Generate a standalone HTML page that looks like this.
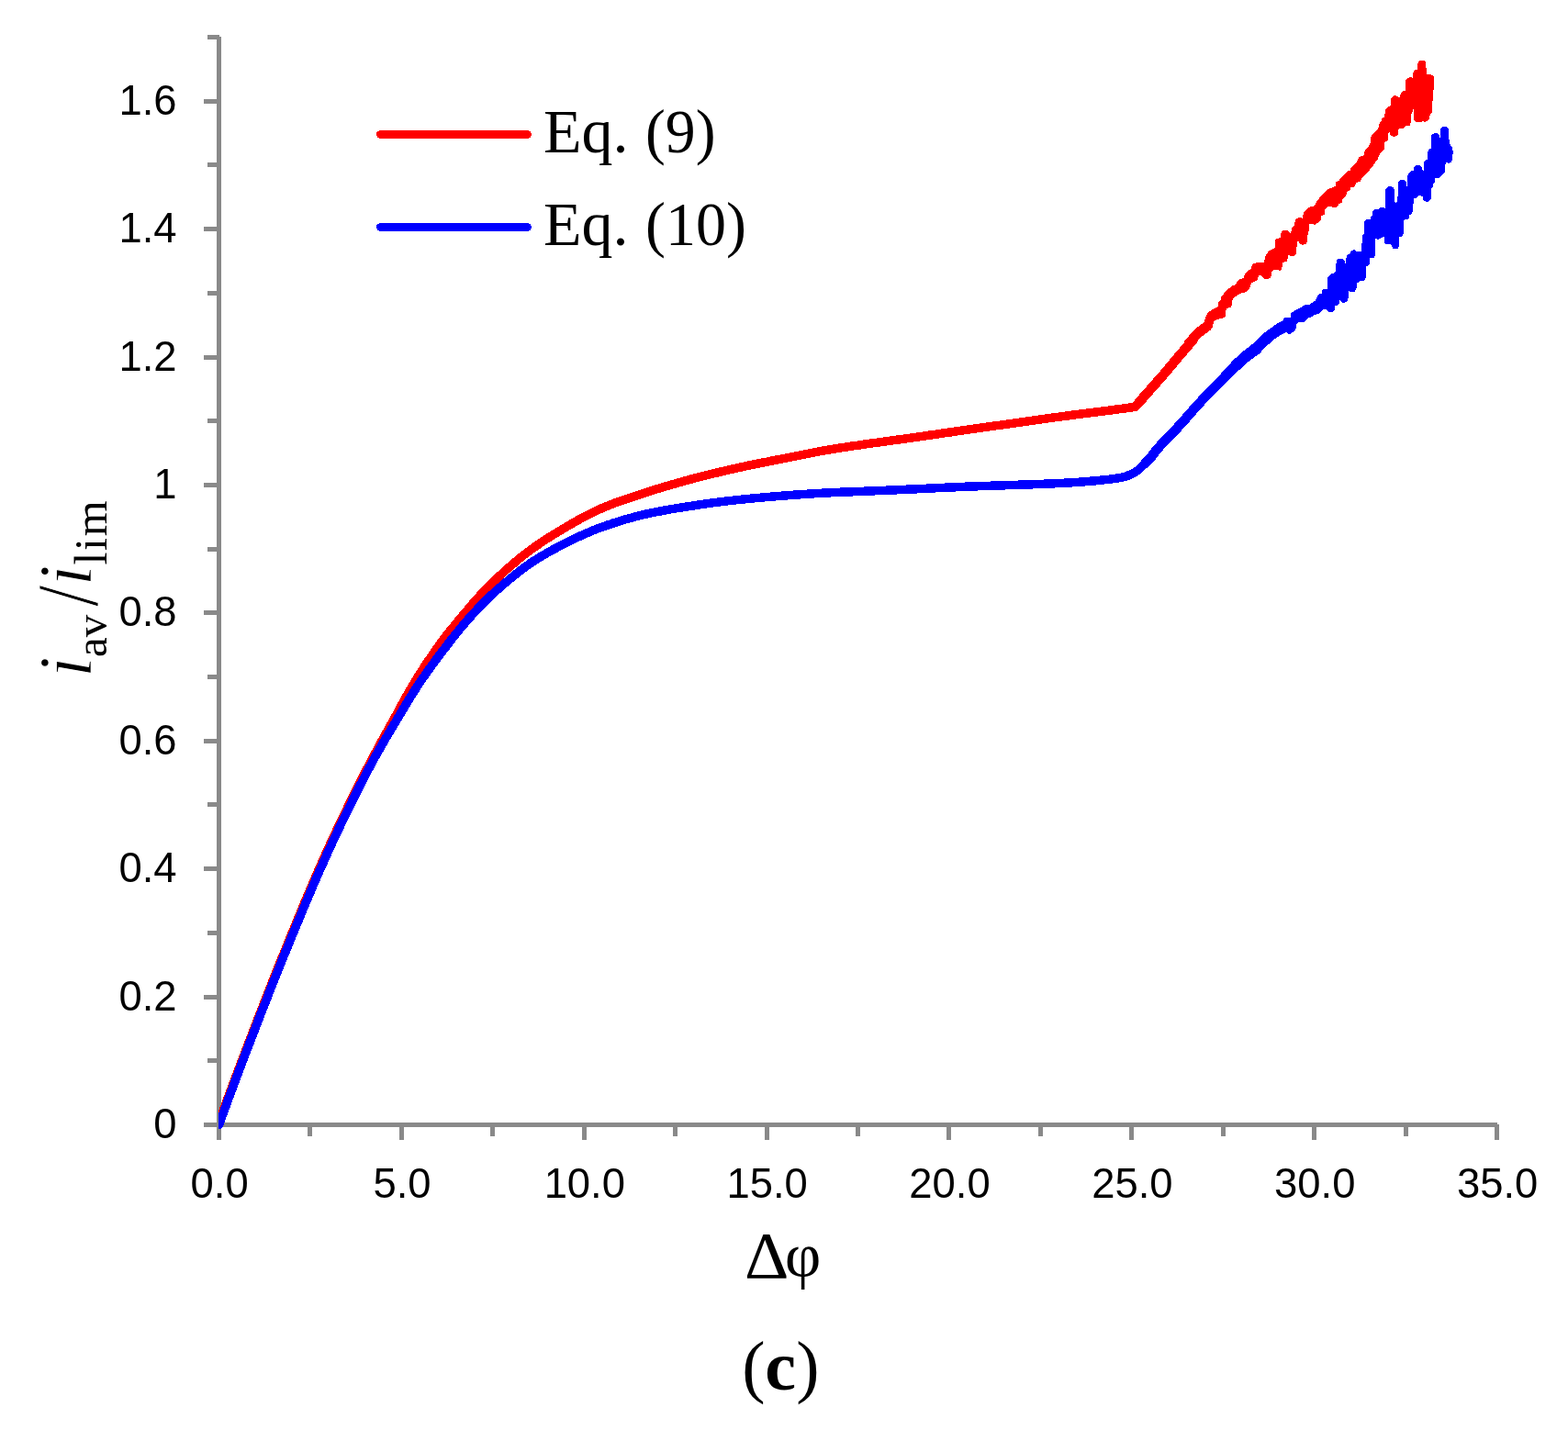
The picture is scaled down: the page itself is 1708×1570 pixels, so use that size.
<!DOCTYPE html>
<html lang="en"><head><meta charset="utf-8"><title>Figure (c)</title>
<style>html,body{margin:0;padding:0;background:#fff;}svg{display:block;}</style>
</head><body>
<svg width="1708" height="1570" viewBox="0 0 1708 1570">
<rect width="1708" height="1570" fill="#fff"/>
<g fill="#898989" shape-rendering="crispEdges">
<rect x="236" y="40" width="5" height="1202"/>
<rect x="222" y="1223" width="1409" height="5"/>
<rect x="226" y="1153.29" width="13" height="5"/>
<rect x="222" y="1083.59" width="17" height="5"/>
<rect x="226" y="1013.88" width="13" height="5"/>
<rect x="222" y="944.18" width="17" height="5"/>
<rect x="226" y="874.47" width="13" height="5"/>
<rect x="222" y="804.76" width="17" height="5"/>
<rect x="226" y="735.06" width="13" height="5"/>
<rect x="222" y="665.35" width="17" height="5"/>
<rect x="226" y="595.65" width="13" height="5"/>
<rect x="222" y="525.94" width="17" height="5"/>
<rect x="226" y="456.23" width="13" height="5"/>
<rect x="222" y="386.53" width="17" height="5"/>
<rect x="226" y="316.82" width="13" height="5"/>
<rect x="222" y="247.12" width="17" height="5"/>
<rect x="226" y="177.41" width="13" height="5"/>
<rect x="222" y="107.70" width="17" height="5"/>
<rect x="226" y="38.00" width="13" height="5"/>
<rect x="335.43" y="1225" width="5" height="13"/>
<rect x="434.86" y="1225" width="5" height="17"/>
<rect x="534.28" y="1225" width="5" height="13"/>
<rect x="633.71" y="1225" width="5" height="17"/>
<rect x="733.14" y="1225" width="5" height="13"/>
<rect x="832.57" y="1225" width="5" height="17"/>
<rect x="931.99" y="1225" width="5" height="13"/>
<rect x="1031.42" y="1225" width="5" height="17"/>
<rect x="1130.85" y="1225" width="5" height="13"/>
<rect x="1230.28" y="1225" width="5" height="17"/>
<rect x="1329.70" y="1225" width="5" height="13"/>
<rect x="1429.13" y="1225" width="5" height="17"/>
<rect x="1528.56" y="1225" width="5" height="13"/>
<rect x="1627.99" y="1225" width="5" height="17"/>
</g>
<g font-family="'Liberation Sans', sans-serif" font-size="45.4" fill="#000">
<text x="192.5" y="1240.10" text-anchor="end">0</text>
<text x="192.5" y="1100.69" text-anchor="end">0.2</text>
<text x="192.5" y="961.28" text-anchor="end">0.4</text>
<text x="192.5" y="821.86" text-anchor="end">0.6</text>
<text x="192.5" y="682.45" text-anchor="end">0.8</text>
<text x="192.5" y="543.04" text-anchor="end">1</text>
<text x="192.5" y="403.63" text-anchor="end">1.2</text>
<text x="192.5" y="264.22" text-anchor="end">1.4</text>
<text x="192.5" y="124.80" text-anchor="end">1.6</text>
<text x="239.10" y="1304.6" text-anchor="middle">0.0</text>
<text x="437.96" y="1304.6" text-anchor="middle">5.0</text>
<text x="636.81" y="1304.6" text-anchor="middle">10.0</text>
<text x="835.67" y="1304.6" text-anchor="middle">15.0</text>
<text x="1034.52" y="1304.6" text-anchor="middle">20.0</text>
<text x="1233.38" y="1304.6" text-anchor="middle">25.0</text>
<text x="1432.23" y="1304.6" text-anchor="middle">30.0</text>
<text x="1631.09" y="1304.6" text-anchor="middle">35.0</text>
</g>
<g fill="none" stroke-width="9" stroke-linecap="round" shape-rendering="crispEdges">
<line x1="414.5" y1="146.5" x2="574.5" y2="146.5" stroke="#ff0000"/>
<line x1="414.5" y1="247.5" x2="574.5" y2="247.5" stroke="#0000ff"/>
</g>
<g font-family="'Liberation Serif', serif" font-size="68" fill="#000">
<text x="592" y="166.2">Eq. <tspan x="703" textLength="76.5" lengthAdjust="spacingAndGlyphs">(9)</tspan></text>
<text x="592" y="266.6">Eq. <tspan x="703" textLength="110" lengthAdjust="spacingAndGlyphs">(10)</tspan></text>
</g>
<g font-family="'Liberation Serif', serif" fill="#000">
<text transform="translate(811.1,1391.6) scale(1.045,1)" font-size="72">Δ</text><text x="855" y="1391.3" font-size="68">φ</text>
<text x="808.2" y="1514" font-size="76">(<tspan x="833.2" y="1514.3" font-weight="bold">c</tspan><tspan x="867.3" y="1514">)</tspan></text>
<text transform="translate(98.5,738.2) rotate(-90)" font-size="83.5" font-style="italic" stroke="#fff" stroke-width="1.1">i</text>
<text transform="translate(116.4,716) rotate(-90)" font-size="49">av</text>
<text transform="translate(106,660.8) rotate(-90) scale(1.04,1.2)" font-size="80" stroke="#fff" stroke-width="0.7">/</text>
<text transform="translate(98.5,638.5) rotate(-90)" font-size="83.5" font-style="italic" stroke="#fff" stroke-width="1.1">i</text>
<text transform="translate(116.2,615.6) rotate(-90)" font-size="50" letter-spacing="1.8">lim</text>
</g>
<defs><clipPath id="plot"><rect x="238" y="30" width="1400" height="1200"/></clipPath></defs>
<g clip-path="url(#plot)" shape-rendering="crispEdges" stroke-linejoin="round" stroke-linecap="round">
<path d="M237.5,1225.5 L238.2,1223.6 L238.9,1221.7 L239.6,1219.9 L240.3,1218.0 L240.9,1216.1 L241.6,1214.2 L242.3,1212.4 L243.0,1210.5 L243.7,1208.6 L244.4,1206.7 L245.1,1204.8 L245.8,1203.0 L246.5,1201.1 L247.2,1199.2 L247.9,1197.3 L248.6,1195.5 L249.3,1193.6 L250.0,1191.7 L250.7,1189.8 L251.4,1188.0 L252.1,1186.1 L252.8,1184.2 L253.5,1182.4 L254.2,1180.5 L254.9,1178.6 L255.6,1176.7 L256.3,1174.9 L257.0,1173.0 L257.7,1171.1 L258.4,1169.2 L259.1,1167.4 L259.8,1165.5 L260.5,1163.6 L261.2,1161.8 L261.9,1159.9 L262.6,1158.0 L263.3,1156.1 L264.0,1154.3 L264.7,1152.4 L265.5,1150.5 L266.2,1148.7 L266.9,1146.8 L267.6,1144.9 L268.3,1143.1 L269.0,1141.2 L269.7,1139.3 L270.4,1137.5 L271.2,1135.6 L271.9,1133.7 L272.6,1131.9 L273.3,1130.0 L274.0,1128.1 L274.7,1126.3 L275.5,1124.4 L276.2,1122.5 L276.9,1120.7 L277.6,1118.8 L278.3,1116.9 L279.1,1115.1 L279.8,1113.2 L280.5,1111.3 L281.2,1109.5 L281.9,1107.6 L282.7,1105.7 L283.4,1103.9 L284.1,1102.0 L284.8,1100.1 L285.6,1098.3 L286.3,1096.4 L287.0,1094.5 L287.7,1092.7 L288.5,1090.8 L289.2,1089.0 L289.9,1087.1 L290.6,1085.2 L291.4,1083.4 L292.1,1081.5 L292.8,1079.6 L293.6,1077.8 L294.3,1075.9 L295.0,1074.1 L295.8,1072.2 L296.5,1070.3 L297.2,1068.5 L298.0,1066.6 L298.7,1064.8 L299.5,1062.9 L300.2,1061.0 L300.9,1059.2 L301.7,1057.3 L302.4,1055.5 L303.2,1053.6 L303.9,1051.8 L304.6,1049.9 L305.4,1048.0 L306.1,1046.2 L306.9,1044.3 L307.6,1042.5 L308.4,1040.6 L309.1,1038.8 L309.9,1036.9 L310.6,1035.1 L311.4,1033.2 L312.1,1031.4 L312.9,1029.5 L313.7,1027.7 L314.4,1025.8 L315.2,1024.0 L315.9,1022.1 L316.7,1020.3 L317.4,1018.4 L318.2,1016.5 L318.9,1014.7 L319.7,1012.8 L320.5,1011.0 L321.2,1009.1 L322.0,1007.3 L322.7,1005.4 L323.5,1003.6 L324.3,1001.7 L325.0,999.9 L325.8,998.0 L326.6,996.2 L327.3,994.3 L328.1,992.5 L328.9,990.6 L329.6,988.8 L330.4,987.0 L331.2,985.1 L331.9,983.3 L332.7,981.4 L333.5,979.6 L334.2,977.7 L335.0,975.9 L335.8,974.0 L336.6,972.2 L337.4,970.3 L338.1,968.5 L338.9,966.7 L339.7,964.8 L340.5,963.0 L341.3,961.1 L342.1,959.3 L342.9,957.5 L343.7,955.6 L344.5,953.8 L345.3,952.0 L346.1,950.1 L346.9,948.3 L347.7,946.5 L348.5,944.6 L349.3,942.8 L350.1,941.0 L350.9,939.2 L351.7,937.3 L352.5,935.5 L353.3,933.7 L354.2,931.9 L355.0,930.0 L355.8,928.2 L356.6,926.4 L357.5,924.6 L358.3,922.8 L359.1,921.0 L360.0,919.1 L360.8,917.3 L361.6,915.5 L362.5,913.7 L363.3,911.9 L364.2,910.1 L365.0,908.3 L365.9,906.4 L366.7,904.6 L367.6,902.8 L368.4,901.0 L369.3,899.2 L370.1,897.4 L371.0,895.6 L371.9,893.8 L372.7,892.0 L373.6,890.2 L374.5,888.4 L375.3,886.6 L376.2,884.8 L377.1,883.0 L378.0,881.2 L378.8,879.4 L379.7,877.6 L380.6,875.8 L381.5,874.0 L382.4,872.2 L383.2,870.4 L384.1,868.6 L385.0,866.8 L385.9,865.0 L386.8,863.2 L387.7,861.4 L388.6,859.6 L389.5,857.9 L390.4,856.1 L391.3,854.3 L392.2,852.5 L393.1,850.7 L394.0,848.9 L394.9,847.1 L395.8,845.4 L396.7,843.6 L397.6,841.8 L398.5,840.0 L399.4,838.2 L400.4,836.5 L401.3,834.7 L402.2,832.9 L403.1,831.1 L404.0,829.4 L405.0,827.6 L405.9,825.8 L406.8,824.1 L407.8,822.3 L408.7,820.5 L409.7,818.8 L410.6,817.0 L411.6,815.2 L412.5,813.5 L413.5,811.7 L414.4,810.0 L415.4,808.2 L416.4,806.5 L417.3,804.7 L418.3,803.0 L419.3,801.2 L420.3,799.5 L421.2,797.7 L422.2,796.0 L423.2,794.2 L424.1,792.5 L425.1,790.7 L426.1,789.0 L427.1,787.2 L428.0,785.5 L429.0,783.7 L430.0,782.0 L430.9,780.2 L431.9,778.5 L432.8,776.7 L433.8,775.0 L434.8,773.2 L435.7,771.4 L436.7,769.7 L437.6,767.9 L438.6,766.2 L439.5,764.4 L440.5,762.7 L441.5,760.9 L442.4,759.2 L443.4,757.4 L444.4,755.7 L445.4,753.9 L446.4,752.2 L447.4,750.5 L448.4,748.7 L449.4,747.0 L450.4,745.3 L451.4,743.6 L452.5,741.9 L453.5,740.2 L454.6,738.5 L455.6,736.8 L456.7,735.1 L457.8,733.4 L458.9,731.7 L459.9,730.0 L461.0,728.4 L462.1,726.7 L463.2,725.0 L464.3,723.3 L465.4,721.7 L466.5,720.0 L467.7,718.3 L468.8,716.7 L469.9,715.0 L471.1,713.4 L472.2,711.7 L473.4,710.1 L474.5,708.5 L475.7,706.8 L476.8,705.2 L478.0,703.6 L479.2,702.0 L480.3,700.3 L481.5,698.7 L482.7,697.1 L483.9,695.5 L485.1,693.9 L486.3,692.3 L487.5,690.8 L488.8,689.2 L490.0,687.6 L491.3,686.1 L492.5,684.5 L493.8,683.0 L495.1,681.4 L496.3,679.9 L497.6,678.3 L498.9,676.8 L500.2,675.3 L501.5,673.7 L502.8,672.2 L504.0,670.7 L505.3,669.1 L506.6,667.6 L507.9,666.0 L509.2,664.5 L510.5,663.0 L511.7,661.4 L513.0,659.9 L514.3,658.4 L515.6,656.9 L517.0,655.4 L518.3,653.9 L519.6,652.4 L521.0,650.9 L522.3,649.4 L523.7,648.0 L525.0,646.5 L526.4,645.1 L527.8,643.6 L529.2,642.2 L530.6,640.8 L532.0,639.3 L533.4,637.9 L534.8,636.5 L536.3,635.1 L537.7,633.7 L539.1,632.3 L540.6,630.9 L542.0,629.5 L543.5,628.2 L544.9,626.8 L546.4,625.5 L547.9,624.1 L549.4,622.8 L550.8,621.4 L552.3,620.1 L553.8,618.8 L555.3,617.4 L556.8,616.1 L558.4,614.8 L559.9,613.5 L561.4,612.2 L563.0,610.9 L564.5,609.6 L566.0,608.4 L567.6,607.1 L569.2,605.9 L570.7,604.6 L572.3,603.4 L573.9,602.2 L575.5,601.0 L577.1,599.8 L578.7,598.6 L580.3,597.5 L582.0,596.3 L583.6,595.1 L585.2,594.0 L586.9,592.9 L588.5,591.7 L590.2,590.6 L591.9,589.5 L593.6,588.4 L595.2,587.3 L596.9,586.2 L598.6,585.2 L600.3,584.1 L602.0,583.1 L603.7,582.0 L605.4,581.0 L607.1,579.9 L608.8,578.9 L610.5,577.9 L612.2,576.8 L614.0,575.8 L615.7,574.8 L617.4,573.7 L619.1,572.7 L620.9,571.7 L622.6,570.7 L624.4,569.7 L626.1,568.7 L627.8,567.7 L629.6,566.7 L631.4,565.7 L633.1,564.8 L634.9,563.8 L636.7,562.9 L638.4,561.9 L640.2,561.0 L642.0,560.1 L643.8,559.2 L645.6,558.3 L647.4,557.5 L649.2,556.6 L651.0,555.8 L652.8,555.0 L654.6,554.2 L656.4,553.4 L658.2,552.6 L660.1,551.9 L661.9,551.1 L663.8,550.4 L665.6,549.7 L667.5,548.9 L669.4,548.2 L671.2,547.5 L673.1,546.9 L675.0,546.2 L676.9,545.5 L678.8,544.8 L680.7,544.2 L682.6,543.5 L684.5,542.9 L686.4,542.3 L688.3,541.6 L690.2,541.0 L692.1,540.4 L694.0,539.7 L695.9,539.1 L697.8,538.5 L699.7,537.9 L701.6,537.3 L703.6,536.7 L705.5,536.1 L707.4,535.4 L709.3,534.8 L711.2,534.2 L713.1,533.6 L715.0,533.0 L716.9,532.4 L718.8,531.9 L720.7,531.3 L722.6,530.7 L724.5,530.1 L726.5,529.5 L728.4,529.0 L730.3,528.4 L732.2,527.8 L734.1,527.3 L736.1,526.7 L738.0,526.2 L739.9,525.6 L741.8,525.1 L743.8,524.5 L745.7,524.0 L747.6,523.5 L749.6,523.0 L751.5,522.4 L753.4,521.9 L755.3,521.4 L757.3,520.9 L759.2,520.4 L761.1,519.9 L763.1,519.4 L765.0,518.9 L767.0,518.4 L768.9,517.9 L770.8,517.4 L772.8,517.0 L774.7,516.5 L776.7,516.0 L778.6,515.5 L780.6,515.1 L782.5,514.6 L784.5,514.1 L786.4,513.7 L788.3,513.2 L790.3,512.8 L792.2,512.3 L794.2,511.9 L796.1,511.4 L798.1,511.0 L800.0,510.5 L802.0,510.1 L804.0,509.7 L805.9,509.2 L807.9,508.8 L809.8,508.4 L811.8,508.0 L813.7,507.5 L815.7,507.1 L817.6,506.7 L819.6,506.3 L821.6,505.9 L823.5,505.5 L825.5,505.1 L827.4,504.7 L829.4,504.3 L831.4,503.9 L833.3,503.5 L835.3,503.2 L837.2,502.8 L839.2,502.4 L841.2,502.0 L843.1,501.6 L845.1,501.2 L847.1,500.8 L849.0,500.5 L851.0,500.1 L852.9,499.7 L854.9,499.3 L856.9,498.9 L858.8,498.5 L860.8,498.1 L862.8,497.8 L864.7,497.4 L866.7,497.0 L868.6,496.6 L870.6,496.2 L872.6,495.8 L874.5,495.4 L876.5,495.0 L878.4,494.6 L880.4,494.2 L882.4,493.8 L884.3,493.4 L886.3,493.0 L888.3,492.6 L890.2,492.3 L892.2,491.9 L894.2,491.5 L896.1,491.2 L898.1,490.8 L900.1,490.5 L902.0,490.2 L904.0,489.8 L906.0,489.5 L907.9,489.2 L909.9,488.9 L911.9,488.5 L913.9,488.2 L915.8,487.9 L917.8,487.6 L919.8,487.3 L921.8,487.0 L923.7,486.7 L925.7,486.4 L927.7,486.1 L929.7,485.8 L931.7,485.5 L933.6,485.3 L935.6,485.0 L937.6,484.7 L939.6,484.4 L941.6,484.1 L943.5,483.8 L945.5,483.6 L947.5,483.3 L949.5,483.0 L951.5,482.7 L953.4,482.5 L955.4,482.2 L957.4,481.9 L959.4,481.6 L961.4,481.4 L963.4,481.1 L965.3,480.8 L967.3,480.6 L969.3,480.3 L971.3,480.0 L973.3,479.7 L975.2,479.5 L977.2,479.2 L979.2,478.9 L981.2,478.7 L983.2,478.4 L985.2,478.1 L987.1,477.8 L989.1,477.6 L991.1,477.3 L993.1,477.0 L995.1,476.7 L997.0,476.4 L999.0,476.1 L1001.0,475.9 L1003.0,475.6 L1005.0,475.3 L1006.9,475.0 L1008.9,474.7 L1010.9,474.4 L1012.9,474.1 L1014.9,473.8 L1016.8,473.6 L1018.8,473.3 L1020.8,473.0 L1022.8,472.7 L1024.7,472.4 L1026.7,472.1 L1028.7,471.8 L1030.7,471.5 L1032.7,471.2 L1034.6,471.0 L1036.6,470.7 L1038.6,470.4 L1040.6,470.1 L1042.6,469.8 L1044.5,469.5 L1046.5,469.2 L1048.5,468.9 L1050.5,468.7 L1052.5,468.4 L1054.4,468.1 L1056.4,467.8 L1058.4,467.5 L1060.4,467.2 L1062.4,467.0 L1064.3,466.7 L1066.3,466.4 L1068.3,466.1 L1070.3,465.8 L1072.3,465.6 L1074.2,465.3 L1076.2,465.0 L1078.2,464.7 L1080.2,464.5 L1082.2,464.2 L1084.1,463.9 L1086.1,463.6 L1088.1,463.4 L1090.1,463.1 L1092.1,462.8 L1094.1,462.5 L1096.0,462.3 L1098.0,462.0 L1100.0,461.7 L1102.0,461.4 L1104.0,461.1 L1105.9,460.9 L1107.9,460.6 L1109.9,460.3 L1111.9,460.0 L1113.9,459.7 L1115.8,459.5 L1117.8,459.2 L1119.8,458.9 L1121.8,458.6 L1123.8,458.3 L1125.7,458.1 L1127.7,457.8 L1129.7,457.5 L1131.7,457.2 L1133.7,456.9 L1135.6,456.7 L1137.6,456.4 L1139.6,456.1 L1141.6,455.8 L1143.6,455.5 L1145.5,455.3 L1147.5,455.0 L1149.5,454.7 L1151.5,454.4 L1153.5,454.2 L1155.4,453.9 L1157.4,453.6 L1159.4,453.4 L1161.4,453.1 L1163.4,452.9 L1165.4,452.6 L1167.3,452.3 L1169.3,452.1 L1171.3,451.8 L1173.3,451.6 L1175.3,451.3 L1177.3,451.1 L1179.2,450.8 L1181.2,450.6 L1183.2,450.3 L1185.2,450.1 L1187.2,449.8 L1189.2,449.6 L1191.2,449.3 L1193.1,449.1 L1195.1,448.8 L1197.1,448.6 L1199.1,448.3 L1201.1,448.1 L1203.1,447.8 L1205.0,447.5 L1207.0,447.3 L1209.0,447.0 L1211.0,446.8 L1213.0,446.5 L1215.0,446.2 L1216.9,446.0 L1218.9,445.7 L1220.9,445.5 L1222.9,445.2 L1224.9,444.9 L1226.9,444.7 L1228.8,444.4 L1230.8,444.1 L1232.8,443.9 L1234.8,443.6 L1236.4,443.4 L1267.0,408.6 L1294.6,375.8 L1299.5,370.3" fill="none" stroke="#ff0000" stroke-width="9.5"/>
<path d="M1240.0,439.2 L1267.0,408.6 L1294.6,375.8 L1299.5,370.3" fill="none" stroke="#ff0000" stroke-width="10.6"/>
<polygon points="1290.0,371.7 1293.7,367.6 1297.5,363.0 1303.2,357.2 1307.8,353.9 1311.9,351.0 1313.2,345.2 1315.7,340.3 1321.9,336.5 1326.4,334.5 1327.3,329.1 1330.2,327.0 1330.2,323.3 1336.4,316.2 1342.2,311.3 1345.1,310.9 1349.2,304.6 1355.0,303.0 1355.0,300.1 1360.4,294.3 1362.9,292.6 1364.1,287.7 1369.1,286.0 1376.9,286.0 1378.2,279.4 1381.9,273.6 1388.9,269.9 1388.9,262.0 1390.2,259.9 1395.2,259.1 1395.2,254.1 1397.6,250.8 1402.6,250.8 1405.9,254.6 1407.5,248.5 1409.9,245.2 1411.2,239.0 1414.5,236.9 1417.0,237.4 1419.0,237.8 1419.9,231.6 1424.8,226.2 1431.9,224.1 1435.2,218.3 1439.3,213.3 1446.4,206.3 1453.0,203.8 1455.1,202.2 1455.1,198.0 1458.8,197.2 1459.2,195.1 1467.9,186.4 1470.8,185.6 1471.2,183.1 1477.8,176.9 1480.3,171.5 1485.7,169.0 1486.9,163.7 1491.1,159.1 1492.8,155.6 1493.2,149.0 1496.6,144.8 1500.3,141.1 1501.9,138.6 1502.4,134.9 1504.8,131.6 1505.3,129.1 1508.2,127.5 1509.0,119.2 1511.9,116.3 1514.8,115.4 1515.2,108.0 1516.8,105.1 1519.7,104.0 1523.1,105.5 1525.1,105.5 1526.0,101.0 1528.4,98.9 1530.9,98.9 1531.3,86.9 1533.8,84.8 1536.3,84.0 1538.8,84.8 1539.2,79.0 1541.3,76.1 1544.2,75.7 1544.2,69.1 1546.2,66.2 1550.8,65.8 1552.9,67.4 1553.3,73.6 1554.1,74.5 1554.1,81.5 1557.0,81.1 1560.7,81.9 1562.0,84.0 1562.0,97.6 1561.1,98.1 1560.7,109.6 1559.9,110.1 1559.9,122.9 1557.0,126.2 1557.0,129.5 1554.9,131.6 1552.0,132.8 1550.4,132.0 1547.9,132.8 1542.1,132.8 1540.4,130.4 1540.0,119.2 1539.2,118.8 1538.8,122.1 1537.1,124.1 1537.1,133.2 1535.5,136.6 1530.9,137.4 1528.9,139.9 1525.1,139.9 1523.1,141.9 1523.1,145.7 1521.4,148.2 1518.5,149.0 1515.6,148.2 1513.9,146.1 1513.9,144.0 1511.9,145.3 1511.9,152.7 1510.2,153.9 1508.2,154.8 1507.7,162.6 1503.2,167.2 1500.3,174.2 1497.0,178.4 1492.4,185.0 1494.0,181.1 1491.9,185.6 1488.6,188.9 1482.8,194.7 1482.0,197.6 1477.8,198.9 1474.9,203.8 1471.2,203.8 1470.4,207.1 1467.1,208.8 1466.2,213.8 1462.1,217.1 1461.7,220.8 1458.8,222.0 1456.3,225.8 1453.8,226.6 1449.7,224.9 1446.4,224.9 1443.1,228.7 1443.1,233.6 1438.9,235.7 1438.9,239.4 1436.4,241.9 1432.3,244.8 1428.6,244.0 1426.5,244.4 1425.7,251.4 1424.4,256.8 1424.0,263.4 1422.4,265.9 1419.0,266.8 1415.3,265.1 1414.1,261.8 1412.8,265.1 1412.0,276.3 1409.2,279.0 1403.0,278.2 1402.2,284.4 1397.2,286.0 1396.8,290.6 1395.2,294.7 1387.7,293.9 1385.2,296.0 1384.8,300.5 1383.2,303.4 1377.8,303.8 1373.6,300.1 1371.1,300.1 1369.5,305.1 1362.9,308.8 1360.4,315.8 1356.2,318.7 1352.9,318.7 1345.1,323.7 1342.2,327.0 1342.2,332.0 1340.9,334.5 1336.0,336.1 1335.1,339.0 1335.1,344.4 1332.2,346.5 1324.8,348.5 1321.9,350.2 1321.1,356.0 1319.0,359.3 1311.5,364.7 1304.9,370.1 1298.3,380.0" fill="#ff0000"/>
<path d="M238.5,1225.5 L239.2,1223.6 L239.9,1221.7 L240.6,1219.9 L241.2,1218.0 L241.9,1216.1 L242.6,1214.2 L243.3,1212.4 L244.0,1210.5 L244.7,1208.6 L245.4,1206.7 L246.1,1204.8 L246.8,1203.0 L247.5,1201.1 L248.2,1199.2 L248.9,1197.3 L249.5,1195.5 L250.2,1193.6 L250.9,1191.7 L251.6,1189.8 L252.3,1188.0 L253.0,1186.1 L253.7,1184.2 L254.4,1182.3 L255.1,1180.5 L255.8,1178.6 L256.5,1176.7 L257.2,1174.9 L257.9,1173.0 L258.7,1171.1 L259.4,1169.2 L260.1,1167.4 L260.8,1165.5 L261.5,1163.6 L262.2,1161.8 L262.9,1159.9 L263.6,1158.0 L264.3,1156.1 L265.0,1154.3 L265.7,1152.4 L266.4,1150.5 L267.1,1148.7 L267.9,1146.8 L268.6,1144.9 L269.3,1143.1 L270.0,1141.2 L270.7,1139.3 L271.4,1137.5 L272.2,1135.6 L272.9,1133.7 L273.6,1131.9 L274.3,1130.0 L275.0,1128.1 L275.7,1126.3 L276.5,1124.4 L277.2,1122.5 L277.9,1120.7 L278.6,1118.8 L279.3,1116.9 L280.1,1115.1 L280.8,1113.2 L281.5,1111.3 L282.2,1109.5 L283.0,1107.6 L283.7,1105.7 L284.4,1103.9 L285.1,1102.0 L285.9,1100.2 L286.6,1098.3 L287.3,1096.4 L288.1,1094.6 L288.8,1092.7 L289.5,1090.8 L290.2,1089.0 L291.0,1087.1 L291.7,1085.3 L292.4,1083.4 L293.2,1081.5 L293.9,1079.7 L294.6,1077.8 L295.4,1076.0 L296.1,1074.1 L296.9,1072.2 L297.6,1070.4 L298.3,1068.5 L299.1,1066.7 L299.8,1064.8 L300.6,1062.9 L301.3,1061.1 L302.0,1059.2 L302.8,1057.4 L303.5,1055.5 L304.3,1053.7 L305.0,1051.8 L305.8,1050.0 L306.5,1048.1 L307.3,1046.2 L308.0,1044.4 L308.8,1042.5 L309.5,1040.7 L310.3,1038.8 L311.0,1037.0 L311.8,1035.1 L312.6,1033.3 L313.3,1031.4 L314.1,1029.6 L314.8,1027.7 L315.6,1025.9 L316.4,1024.0 L317.1,1022.2 L317.9,1020.3 L318.6,1018.5 L319.4,1016.6 L320.2,1014.8 L320.9,1012.9 L321.7,1011.1 L322.4,1009.2 L323.2,1007.4 L324.0,1005.5 L324.7,1003.7 L325.5,1001.8 L326.3,1000.0 L327.0,998.1 L327.8,996.3 L328.6,994.4 L329.3,992.6 L330.1,990.7 L330.9,988.9 L331.7,987.1 L332.4,985.2 L333.2,983.4 L334.0,981.5 L334.8,979.7 L335.5,977.8 L336.3,976.0 L337.1,974.2 L337.9,972.3 L338.7,970.5 L339.5,968.6 L340.2,966.8 L341.0,965.0 L341.8,963.1 L342.6,961.3 L343.4,959.4 L344.2,957.6 L345.0,955.8 L345.8,953.9 L346.6,952.1 L347.4,950.3 L348.2,948.5 L349.0,946.6 L349.8,944.8 L350.6,943.0 L351.5,941.1 L352.3,939.3 L353.1,937.5 L353.9,935.7 L354.7,933.9 L355.6,932.0 L356.4,930.2 L357.2,928.4 L358.1,926.6 L358.9,924.8 L359.7,923.0 L360.6,921.1 L361.4,919.3 L362.2,917.5 L363.1,915.7 L363.9,913.9 L364.8,912.1 L365.6,910.3 L366.5,908.4 L367.3,906.6 L368.2,904.8 L369.0,903.0 L369.9,901.2 L370.7,899.4 L371.6,897.6 L372.5,895.8 L373.3,894.0 L374.2,892.2 L375.1,890.4 L375.9,888.6 L376.8,886.8 L377.7,885.0 L378.6,883.2 L379.4,881.4 L380.3,879.6 L381.2,877.8 L382.1,876.0 L383.0,874.2 L383.8,872.4 L384.7,870.6 L385.6,868.8 L386.5,867.0 L387.4,865.2 L388.3,863.4 L389.2,861.6 L390.1,859.8 L391.0,858.1 L391.9,856.3 L392.8,854.5 L393.8,852.7 L394.7,850.9 L395.6,849.2 L396.5,847.4 L397.4,845.6 L398.4,843.8 L399.3,842.1 L400.2,840.3 L401.1,838.5 L402.1,836.8 L403.0,835.0 L404.0,833.2 L404.9,831.5 L405.8,829.7 L406.8,828.0 L407.8,826.2 L408.7,824.5 L409.7,822.7 L410.7,821.0 L411.6,819.2 L412.6,817.5 L413.6,815.8 L414.6,814.0 L415.6,812.3 L416.6,810.6 L417.6,808.8 L418.6,807.1 L419.6,805.4 L420.6,803.6 L421.7,801.9 L422.7,800.2 L423.7,798.5 L424.7,796.8 L425.8,795.0 L426.8,793.3 L427.8,791.6 L428.8,789.9 L429.9,788.2 L430.9,786.4 L431.9,784.7 L432.9,783.0 L434.0,781.3 L435.0,779.6 L436.0,777.9 L437.0,776.1 L438.1,774.4 L439.1,772.7 L440.1,771.0 L441.2,769.3 L442.2,767.6 L443.2,765.8 L444.3,764.1 L445.3,762.4 L446.4,760.7 L447.4,759.0 L448.5,757.3 L449.5,755.6 L450.6,753.9 L451.7,752.3 L452.8,750.6 L453.8,748.9 L454.9,747.2 L456.0,745.6 L457.1,743.9 L458.3,742.2 L459.4,740.6 L460.5,738.9 L461.6,737.3 L462.8,735.7 L463.9,734.0 L465.1,732.4 L466.3,730.8 L467.4,729.1 L468.6,727.5 L469.8,725.9 L470.9,724.3 L472.1,722.7 L473.3,721.0 L474.5,719.4 L475.7,717.8 L476.9,716.2 L478.1,714.6 L479.3,713.0 L480.5,711.4 L481.7,709.8 L482.9,708.2 L484.1,706.7 L485.4,705.1 L486.6,703.5 L487.8,701.9 L489.0,700.3 L490.2,698.7 L491.5,697.1 L492.7,695.6 L493.9,694.0 L495.2,692.4 L496.4,690.9 L497.7,689.3 L499.0,687.8 L500.2,686.2 L501.5,684.7 L502.8,683.1 L504.1,681.6 L505.4,680.1 L506.7,678.6 L508.0,677.1 L509.3,675.6 L510.6,674.0 L511.9,672.6 L513.3,671.1 L514.6,669.6 L516.0,668.1 L517.3,666.6 L518.7,665.1 L520.0,663.7 L521.4,662.2 L522.8,660.8 L524.2,659.3 L525.6,657.9 L527.0,656.5 L528.4,655.1 L529.8,653.7 L531.2,652.3 L532.7,650.9 L534.1,649.5 L535.6,648.1 L537.0,646.8 L538.5,645.4 L540.0,644.1 L541.5,642.7 L543.0,641.4 L544.5,640.1 L546.0,638.8 L547.5,637.4 L549.0,636.1 L550.6,634.8 L552.1,633.6 L553.6,632.3 L555.2,631.0 L556.7,629.8 L558.3,628.5 L559.8,627.2 L561.4,626.0 L563.0,624.7 L564.5,623.5 L566.1,622.3 L567.7,621.0 L569.3,619.8 L570.9,618.6 L572.5,617.4 L574.1,616.3 L575.8,615.1 L577.4,614.0 L579.0,612.8 L580.7,611.7 L582.4,610.6 L584.1,609.6 L585.7,608.5 L587.4,607.4 L589.2,606.4 L590.9,605.4 L592.6,604.4 L594.3,603.4 L596.1,602.4 L597.8,601.4 L599.6,600.4 L601.3,599.4 L603.1,598.5 L604.9,597.6 L606.6,596.6 L608.4,595.7 L610.2,594.8 L612.0,593.9 L613.7,593.0 L615.5,592.1 L617.3,591.2 L619.1,590.3 L620.9,589.4 L622.7,588.5 L624.5,587.6 L626.3,586.7 L628.1,585.8 L629.9,585.0 L631.8,584.1 L633.6,583.3 L635.4,582.5 L637.2,581.7 L639.1,580.9 L640.9,580.1 L642.8,579.3 L644.6,578.5 L646.5,577.8 L648.3,577.0 L650.2,576.3 L652.0,575.6 L653.9,574.9 L655.8,574.2 L657.6,573.6 L659.5,572.9 L661.4,572.2 L663.3,571.6 L665.2,571.0 L667.1,570.3 L669.0,569.7 L670.9,569.1 L672.8,568.5 L674.7,567.9 L676.6,567.3 L678.5,566.7 L680.5,566.1 L682.4,565.6 L684.3,565.0 L686.3,564.5 L688.2,564.0 L690.1,563.4 L692.1,562.9 L694.0,562.4 L696.0,561.9 L697.9,561.4 L699.8,561.0 L701.8,560.5 L703.7,560.1 L705.7,559.7 L707.6,559.2 L709.6,558.8 L711.5,558.4 L713.5,558.0 L715.4,557.6 L717.4,557.2 L719.4,556.9 L721.3,556.5 L723.3,556.1 L725.3,555.8 L727.2,555.4 L729.2,555.1 L731.2,554.7 L733.2,554.4 L735.1,554.1 L737.1,553.7 L739.1,553.4 L741.1,553.1 L743.0,552.8 L745.0,552.5 L747.0,552.2 L749.0,551.9 L751.0,551.6 L752.9,551.3 L754.9,551.0 L756.9,550.7 L758.9,550.4 L760.9,550.1 L762.8,549.8 L764.8,549.5 L766.8,549.2 L768.8,548.9 L770.7,548.7 L772.7,548.4 L774.7,548.1 L776.7,547.8 L778.7,547.6 L780.7,547.3 L782.6,547.1 L784.6,546.8 L786.6,546.6 L788.6,546.3 L790.6,546.1 L792.6,545.8 L794.6,545.6 L796.5,545.4 L798.5,545.2 L800.5,544.9 L802.5,544.7 L804.5,544.5 L806.5,544.3 L808.5,544.1 L810.5,543.9 L812.5,543.7 L814.4,543.5 L816.4,543.3 L818.4,543.1 L820.4,542.9 L822.4,542.7 L824.4,542.6 L826.4,542.4 L828.4,542.2 L830.4,542.0 L832.4,541.8 L834.4,541.7 L836.4,541.5 L838.3,541.3 L840.3,541.2 L842.3,541.0 L844.3,540.8 L846.3,540.7 L848.3,540.5 L850.3,540.3 L852.3,540.2 L854.3,540.0 L856.3,539.9 L858.3,539.7 L860.3,539.6 L862.3,539.4 L864.3,539.3 L866.3,539.1 L868.3,539.0 L870.3,538.9 L872.2,538.7 L874.2,538.6 L876.2,538.4 L878.2,538.3 L880.2,538.2 L882.2,538.0 L884.2,537.9 L886.2,537.8 L888.2,537.7 L890.2,537.5 L892.2,537.4 L894.2,537.3 L896.2,537.2 L898.2,537.1 L900.2,537.0 L902.2,536.9 L904.2,536.8 L906.2,536.7 L908.2,536.6 L910.2,536.5 L912.2,536.4 L914.2,536.3 L916.2,536.2 L918.2,536.2 L920.2,536.1 L922.2,536.0 L924.2,535.9 L926.2,535.8 L928.2,535.8 L930.2,535.7 L932.2,535.6 L934.2,535.5 L936.2,535.5 L938.2,535.4 L940.2,535.3 L942.2,535.2 L944.2,535.1 L946.2,535.1 L948.2,535.0 L950.2,534.9 L952.2,534.8 L954.1,534.7 L956.1,534.7 L958.1,534.6 L960.1,534.5 L962.1,534.4 L964.1,534.3 L966.1,534.2 L968.1,534.1 L970.1,534.1 L972.1,534.0 L974.1,533.9 L976.1,533.8 L978.1,533.7 L980.1,533.6 L982.1,533.5 L984.1,533.4 L986.1,533.3 L988.1,533.2 L990.1,533.2 L992.1,533.1 L994.1,533.0 L996.1,532.9 L998.1,532.8 L1000.1,532.7 L1002.1,532.6 L1004.1,532.5 L1006.1,532.4 L1008.1,532.3 L1010.1,532.2 L1012.1,532.1 L1014.1,532.0 L1016.1,531.9 L1018.1,531.8 L1020.1,531.7 L1022.1,531.6 L1024.1,531.5 L1026.1,531.4 L1028.1,531.3 L1030.1,531.2 L1032.1,531.1 L1034.1,531.0 L1036.1,530.9 L1038.1,530.9 L1040.1,530.8 L1042.1,530.7 L1044.1,530.6 L1046.1,530.5 L1048.0,530.4 L1050.0,530.3 L1052.0,530.2 L1054.0,530.1 L1056.0,530.1 L1058.0,530.0 L1060.0,529.9 L1062.0,529.8 L1064.0,529.8 L1066.0,529.7 L1068.0,529.6 L1070.0,529.5 L1072.0,529.5 L1074.0,529.4 L1076.0,529.4 L1078.0,529.3 L1080.0,529.2 L1082.0,529.2 L1084.0,529.1 L1086.0,529.1 L1088.0,529.0 L1090.0,528.9 L1092.0,528.9 L1094.0,528.8 L1096.0,528.7 L1098.0,528.7 L1100.0,528.6 L1102.0,528.5 L1104.0,528.5 L1106.0,528.4 L1108.0,528.3 L1110.0,528.2 L1112.0,528.2 L1114.0,528.1 L1116.0,528.0 L1118.0,528.0 L1120.0,527.9 L1122.0,527.8 L1124.0,527.8 L1126.0,527.7 L1128.0,527.6 L1130.0,527.5 L1132.0,527.5 L1134.0,527.4 L1136.0,527.3 L1138.0,527.2 L1140.0,527.1 L1142.0,527.1 L1144.0,527.0 L1146.0,526.9 L1148.0,526.8 L1150.0,526.7 L1152.0,526.6 L1154.0,526.5 L1156.0,526.4 L1158.0,526.3 L1160.0,526.2 L1162.0,526.1 L1164.0,526.0 L1166.0,525.9 L1168.0,525.7 L1170.0,525.6 L1171.9,525.5 L1173.9,525.3 L1175.9,525.2 L1177.9,525.0 L1179.9,524.9 L1181.9,524.7 L1183.9,524.6 L1185.9,524.4 L1187.9,524.2 L1189.9,524.1 L1191.9,523.9 L1193.9,523.7 L1195.9,523.5 L1197.9,523.3 L1199.9,523.1 L1201.8,522.9 L1203.8,522.7 L1205.8,522.5 L1207.8,522.3 L1209.8,522.0 L1211.8,521.8 L1213.8,521.5 L1215.8,521.2 L1217.7,520.9 L1219.7,520.5 L1221.6,520.2 L1223.6,519.7 L1225.5,519.2 L1227.5,518.6 L1229.3,517.9 L1231.2,517.2 L1233.0,516.4 L1234.8,515.4 L1236.5,514.4 L1238.2,513.3 L1239.8,512.1 L1241.3,510.8 L1242.8,509.4 L1244.2,508.0 L1245.5,506.5 L1246.8,505.0 L1248.1,503.5 L1249.4,501.9 L1250.7,500.5 L1252.1,499.0 L1253.5,497.5 L1254.8,496.1 L1256.1,494.5 L1257.3,492.9 L1258.5,491.3 L1259.7,489.7 L1261.0,488.2 L1262.3,486.7 L1263.7,485.2 L1265.1,483.8 L1266.5,482.3 L1267.8,480.9 L1269.2,479.4 L1270.6,478.0 L1272.0,476.6 L1273.4,475.1 L1274.8,473.7 L1276.2,472.2 L1277.5,470.8 L1278.9,469.4 L1280.3,467.9 L1281.6,466.4 L1283.0,464.9 L1284.3,463.4 L1285.6,462.0 L1287.0,460.5 L1288.3,459.0 L1289.7,457.5 L1291.0,456.0 L1292.3,454.5 L1293.6,453.0 L1295.0,451.5 L1296.3,450.0 L1297.6,448.5 L1298.9,447.0 L1300.3,445.5 L1301.6,444.0 L1302.9,442.5 L1304.3,441.0 L1305.6,439.5 L1306.9,438.1 L1308.3,436.6 L1309.6,435.1 L1311.0,433.6 L1312.4,432.2 L1313.7,430.7 L1315.1,429.3 L1316.5,427.8 L1317.9,426.4 L1319.2,424.9 L1320.6,423.5 L1322.0,422.1 L1323.4,420.6 L1324.8,419.2 L1326.2,417.8 L1327.6,416.4 L1329.1,414.9 L1330.5,413.5 L1331.9,412.1 L1333.3,410.7 L1334.7,409.3 L1336.2,407.9 L1337.6,406.5 L1339.0,405.1 L1340.5,403.7 L1341.9,402.3 L1343.4,401.0 L1344.8,399.6 L1346.0,398.5" fill="none" stroke="#0000ff" stroke-width="9.5"/>
<path d="M1247.1,505.3 L1248.4,503.8 L1249.7,502.2 L1251.0,500.8 L1252.4,499.3 L1253.8,497.8 L1255.1,496.4 L1256.4,494.8 L1257.6,493.2 L1258.8,491.6 L1260.0,490.0 L1261.3,488.5 L1262.6,487.0 L1264.0,485.5 L1265.4,484.1 L1266.8,482.6 L1268.1,481.2 L1269.5,479.7 L1270.9,478.3 L1272.3,476.9 L1273.7,475.4 L1275.1,474.0 L1276.5,472.5 L1277.8,471.1 L1279.2,469.7 L1280.6,468.2 L1281.9,466.7 L1283.3,465.2 L1284.6,463.7 L1285.9,462.3 L1287.3,460.8 L1288.6,459.3 L1290.0,457.8 L1291.3,456.3 L1292.6,454.8 L1293.9,453.3 L1295.3,451.8 L1296.6,450.3 L1297.9,448.8 L1299.2,447.3 L1300.6,445.8 L1301.9,444.3 L1303.2,442.8 L1304.6,441.3 L1305.9,439.8 L1307.2,438.4 L1308.6,436.9 L1309.9,435.4 L1311.3,433.9 L1312.7,432.5 L1314.0,431.0 L1315.4,429.6 L1316.8,428.1 L1318.2,426.7 L1319.5,425.2 L1320.9,423.8 L1322.3,422.4 L1323.7,420.9 L1325.1,419.5 L1326.5,418.1 L1327.9,416.7 L1329.4,415.2 L1330.8,413.8 L1332.2,412.4 L1333.6,411.0 L1335.0,409.6 L1336.5,408.2 L1337.9,406.8 L1339.3,405.4 L1340.8,404.0 L1342.2,402.6 L1343.7,401.3 L1345.1,399.9 L1346.3,398.8" fill="none" stroke="#0000ff" stroke-width="10.6"/>
<polygon points="1330.0,406.5 1336.4,400.1 1342.7,393.1 1349.1,387.1 1356.1,381.0 1361.8,376.9 1367.6,372.1 1372.0,367.3 1380.3,360.0 1385.0,357.2 1391.2,352.3 1397.0,349.8 1399.0,346.5 1406.1,346.1 1406.5,341.1 1411.9,337.4 1418.1,334.5 1421.4,332.0 1426.0,332.0 1433.0,327.4 1434.2,324.1 1437.1,320.4 1440.0,319.6 1440.4,316.2 1442.1,315.0 1446.2,315.0 1446.2,302.2 1450.4,298.4 1452.9,298.0 1454.9,296.0 1455.4,287.3 1456.6,283.1 1458.2,281.9 1462.8,281.9 1464.5,283.9 1465.3,286.8 1466.1,286.4 1466.5,281.5 1467.4,277.7 1470.3,276.5 1471.9,273.6 1474.8,271.9 1477.7,274.0 1483.1,274.0 1483.1,273.9 1483.3,265.2 1484.1,264.4 1484.1,256.1 1486.0,254.5 1486.2,241.2 1488.3,239.1 1492.8,238.9 1493.2,236.2 1495.1,234.6 1495.3,230.0 1498.2,228.0 1501.9,228.0 1503.6,226.1 1507.7,226.1 1509.0,227.1 1509.0,207.3 1510.2,205.2 1512.3,203.1 1515.6,203.1 1518.1,204.4 1518.8,207.3 1518.9,219.7 1520.4,220.9 1521.8,219.7 1522.2,213.9 1523.1,213.5 1523.1,198.6 1525.1,196.3 1529.7,196.1 1532.0,198.6 1532.2,202.7 1533.0,202.7 1533.2,192.4 1534.2,189.5 1537.1,186.1 1540.0,185.7 1540.3,182.0 1542.9,180.1 1546.2,179.9 1548.7,182.4 1549.1,184.9 1550.8,185.7 1551.2,176.3 1553.3,174.2 1554.9,173.8 1555.2,165.1 1557.0,162.2 1559.1,161.8 1559.3,147.7 1561.1,145.7 1564.0,144.8 1566.5,145.7 1567.8,147.7 1568.2,149.8 1569.0,149.8 1569.0,140.3 1571.1,138.2 1575.6,137.8 1578.1,140.3 1578.1,151.9 1578.9,152.7 1579.8,158.5 1581.8,160.6 1582.3,163.9 1583.1,165.1 1583.1,167.6 1582.0,168.4 1581.8,174.2 1580.6,176.7 1577.7,178.0 1575.6,177.1 1574.4,178.8 1574.0,179.1 1573.6,187.8 1571.5,189.9 1567.8,193.6 1563.0,194.0 1562.8,198.6 1561.1,200.2 1560.7,203.9 1559.1,205.2 1559.1,215.1 1558.2,217.6 1555.8,219.7 1552.9,219.7 1550.2,217.6 1549.6,213.9 1545.4,213.1 1542.9,215.5 1540.0,216.0 1539.8,221.5 1539.0,222.2 1538.8,230.9 1537.1,233.8 1535.1,234.2 1534.8,237.5 1533.8,238.7 1530.1,238.9 1529.0,240.4 1528.9,254.9 1526.8,257.8 1524.1,257.9 1523.9,268.9 1522.6,270.6 1517.3,270.6 1516.0,268.5 1514.8,265.9 1509.4,265.9 1508.2,264.4 1508.0,258.2 1506.5,257.8 1504.0,259.8 1501.1,260.7 1498.1,259.8 1497.8,278.5 1497.0,280.5 1492.0,281.0 1491.8,287.6 1489.9,289.6 1488.1,290.1 1487.6,303.0 1486.0,305.5 1481.8,306.3 1478.1,308.4 1478.1,312.1 1476.9,315.4 1476.1,317.5 1470.3,317.9 1469.0,317.1 1468.6,324.5 1467.8,327.8 1465.3,329.5 1462.8,329.9 1459.5,327.0 1459.1,330.7 1457.0,332.8 1454.1,333.2 1453.7,337.8 1451.2,339.8 1447.1,339.8 1444.2,336.9 1442.1,336.5 1437.1,341.9 1431.3,343.2 1429.7,345.2 1424.7,346.5 1421.0,350.6 1414.8,351.0 1412.3,352.7 1411.9,357.2 1410.6,359.7 1406.5,363.4 1404.0,363.9 1401.1,362.2 1394.9,365.1 1388.3,369.6 1380.0,376.7 1377.1,379.7 1371.4,385.8 1363.1,391.5 1358.7,395.0 1351.7,401.7 1346.6,405.5 1342.7,410.0" fill="#0000ff"/>
</g>
</svg>
</body></html>
